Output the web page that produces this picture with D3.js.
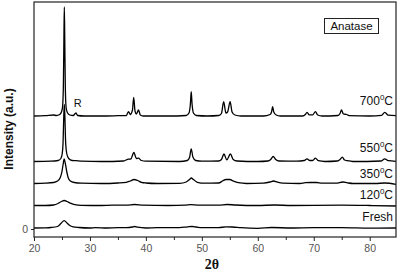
<!DOCTYPE html>
<html>
<head>
<meta charset="utf-8">
<script src="https://cdnjs.cloudflare.com/ajax/libs/d3/7.8.5/d3.min.js"></script>
<style>
  html, body { margin: 0; padding: 0; background: #fff; }
  svg { display: block; }
</style>
</head>
<body>
<svg id="chart" width="400" height="275"></svg>
<script>
// ---------------- DATA ----------------
const seriesNames = ["Fresh", "120", "350", "550", "700"];
// vertical offsets of each pattern (a.u.)
const offsets = [1, 23.5, 45.5, 67.5, 113];

const fresh = [[20,0],[22,0.2],[23,0.5],[24.2,1.5],[24.8,4.5],[25.4,7.3],[25.9,5],[26.4,2.5],[27,1.2],[28,0.5],[30,0],[31,0.4],[33,0],[35,0.3],[36.5,0.3],[37.6,1],[38,1.5],[38.5,0.8],[40,0],[42,0.3],[46,0.3],[47.5,1.2],[48.3,1.5],[49,1],[50,0.3],[53,0.3],[54.3,1.2],[55.5,1],[57,0.3],[60,-0.3],[62.5,0.5],[66,0],[70,0.3],[75,0.3],[80,-0.2],[84.7,0]];
const t120 = [[20,0],[22,0],[23.5,0.5],[24.3,2],[24.9,4],[25.4,5],[25.9,4],[26.5,2.3],[27.3,0.8],[28.5,0.2],[32,0],[34,0.3],[36.5,0.3],[38,1],[39.5,0.3],[44,0],[47,0.3],[48,0.8],[49.5,0.3],[53,0.3],[54.5,1],[56,0.5],[60,0],[63,0.5],[66,0],[70,0.2],[75,0.3],[80,0],[84.7,-0.5]];
const t350 = [[20,0],[22,0.3],[23.5,1],[24.2,2.5],[24.7,6],[25,12],[25.2,19],[25.4,24.5],[25.6,20],[25.85,12],[26.1,6],[26.5,2.5],[27.2,1],[28.5,0.3],[32,0],[35,0.5],[36.5,1.2],[37.2,2.5],[37.9,4],[38.5,3],[39.2,1.2],[40,0.5],[42,0],[46,0.2],[47.2,1.5],[47.8,4],[48.1,5.5],[48.5,4],[49.2,1.2],[50.5,0.3],[53,0.5],[53.7,2.5],[54.3,4],[55,4],[55.6,2.5],[56.5,0.8],[58,0],[61,0.3],[62.2,1.5],[62.8,2.5],[63.5,1.3],[64.5,0.3],[67.5,0],[68.5,0.8],[69.5,1],[70.5,1],[71.5,0.3],[74,0.3],[75.2,1.5],[76,0.7],[77,0],[81,0],[82.7,0.5],[84.7,-0.8]];
const t550 = [[20,0],[23,0.3],[24.3,1],[24.8,3],[25.05,8],[25.2,20],[25.32,45],[25.42,57],[25.52,45],[25.65,20],[25.85,8],[26.2,3],[26.8,1],[27.5,0.8],[28.5,0.3],[32,0],[36,0.5],[36.9,2.4],[37.3,2.5],[37.85,9],[38.3,3],[38.65,3.4],[39.2,1],[40,0.3],[46,0],[47.4,1],[47.8,4],[48.1,12.7],[48.4,4.5],[48.9,1],[50,0.3],[53,0.5],[53.5,2],[53.95,7.5],[54.45,1.7],[55.1,7.5],[55.6,2],[56.3,0.5],[60,0],[61.8,0.5],[62.3,2],[62.75,5],[63.2,2],[63.8,0.5],[67,0.3],[68.3,1],[68.8,2.7],[69.3,1],[69.8,1],[70.3,3.4],[70.8,0.8],[72,0],[74.2,0.5],[74.7,2],[75.1,4.4],[75.5,1.5],[76,0.8],[77,0],[82,0.5],[82.7,2.7],[83.3,0.8],[84.7,0.2]];
const t700 = [[20,0],[22,0.3],[23.5,1],[24,0.5],[24.6,1.5],[24.9,4],[25.1,9],[25.25,30],[25.35,80],[25.42,109],[25.5,75],[25.6,28],[25.75,8],[26,3],[26.4,1],[27,0.5],[27.5,3],[27.8,0.5],[29,0],[32,0],[35,0.3],[36.5,0.5],[36.9,4.3],[37.2,1.5],[37.6,6],[37.82,18.7],[38.05,5],[38.3,2],[38.68,6],[39,1],[39.5,0],[44,0],[47.2,0.5],[47.7,3],[47.95,12],[48.1,24.3],[48.25,12],[48.5,3],[49,0.5],[51,0],[53,0.5],[53.5,2.5],[53.9,14.3],[54.3,3],[54.6,4],[55.05,14.3],[55.4,4],[55.9,1],[57,0],[61,0],[62.2,1.5],[62.45,4],[62.65,9.3],[62.85,4],[63.3,1],[64,0],[68,0],[68.5,1.5],[68.8,3.7],[69.2,1.2],[69.8,1.2],[70.3,4.3],[70.7,1],[71.5,0],[74.3,0.5],[74.7,2.5],[74.95,6],[75.3,2],[75.9,1.5],[76.3,0.3],[80,0],[82.1,0.7],[82.7,3.7],[83.3,0.8],[84.7,0.3]];
const patterns = [fresh, t120, t350, t550, t700];

const seriesLabels = [["Fresh", "", ""], ["120", "0", "C"], ["350", "0", "C"], ["550", "0", "C"], ["700", "0", "C"]];
const labelIntensity = [12, 34, 55, 81, 128];   // a.u. level of each label
const xTicksMajor = [20, 30, 40, 50, 60, 70, 80];
const xTicksMinor = [25, 35, 45, 55, 65, 75];
const yTicks = [0];
const phaseLabel = "Anatase";
const rutileLabel = "R";
const rutilePos = [27.8, 122];
const xTitle = "2θ";
const yTitle = "Intensity (a.u.)";

// ---------------- LAYOUT ----------------
const svg = d3.select("#chart");
const L = 34, R = 396, T = 2, B = 237;
const x = d3.scaleLinear().domain([20, 84.7]).range([L, R]);
const y = d3.scaleLinear().domain([0, 227]).range([229, T]);
const font = "'Liberation Sans', Arial, sans-serif";

svg.append("defs").append("clipPath").attr("id", "clip")
  .append("rect").attr("x", L).attr("y", T).attr("width", R - L).attr("height", B - T);

const line = d3.line().x(d => x(d[0])).y(d => y(d[1])).curve(d3.curveMonotoneX);

const g = svg.append("g").attr("clip-path", "url(#clip)");
patterns.forEach((p, i) => {
  g.append("path")
    .datum(p.map(d => [d[0], d[1] + offsets[i]]))
    .attr("d", line)
    .attr("fill", "none")
    .attr("stroke", "#000")
    .attr("stroke-width", 1.3)
    .attr("stroke-linejoin", "round");
});

// frame
svg.append("rect").attr("x", L).attr("y", T).attr("width", R - L).attr("height", B - T)
  .attr("fill", "none").attr("stroke", "#222").attr("stroke-width", 1.2);

// x axis
const xAxis = d3.axisBottom(x).tickValues(xTicksMajor).tickSize(4).tickPadding(4);
const xa = svg.append("g").attr("transform", `translate(0,${B})`).call(xAxis);
xa.select(".domain").remove();
xa.selectAll("text").attr("font-family", font).attr("font-size", 10.5).attr("fill", "#555");
xa.selectAll("line").attr("stroke", "#222");
const xMinor = d3.axisBottom(x).tickValues(xTicksMinor).tickSize(3).tickFormat("");
const xm = svg.append("g").attr("transform", `translate(0,${B})`).call(xMinor);
xm.select(".domain").remove();
xm.selectAll("line").attr("stroke", "#222");

// y axis
const yAxis = d3.axisLeft(y).tickValues(yTicks).tickSize(3).tickPadding(3);
const ya = svg.append("g").attr("transform", `translate(${L},0)`).call(yAxis);
ya.select(".domain").remove();
ya.selectAll("text").attr("font-family", font).attr("font-size", 10.5).attr("fill", "#555");
ya.selectAll("line").attr("stroke", "#222");

// series labels
seriesLabels.forEach((lb, i) => {
  const t = svg.append("text")
    .attr("x", 393).attr("y", y(labelIntensity[i]) + 4)
    .attr("text-anchor", "end")
    .attr("font-family", font).attr("font-size", 12).attr("fill", "#111");
  t.append("tspan").text(lb[0]);
  if (lb[1]) {
    t.append("tspan").attr("dy", -5).attr("font-size", 8).text(lb[1]);
    t.append("tspan").attr("dy", 5).text(lb[2]);
  }
});

// rutile label
svg.append("text").attr("x", x(rutilePos[0])).attr("y", y(rutilePos[1]))
  .attr("text-anchor", "middle").attr("font-family", font).attr("font-size", 11).attr("fill", "#111")
  .text(rutileLabel);

// anatase box
const bx = svg.append("g");
bx.append("rect").attr("x", 324.5).attr("y", 18.5).attr("width", 54).attr("height", 15)
  .attr("fill", "#fff").attr("stroke", "#222").attr("stroke-width", 1);
bx.append("text").attr("x", 351.5).attr("y", 30).attr("text-anchor", "middle")
  .attr("font-family", font).attr("font-size", 11.5).attr("fill", "#111").text(phaseLabel);

// axis titles
svg.append("text").attr("x", 212).attr("y", 269).attr("text-anchor", "middle")
  .attr("font-family", "'Liberation Serif', 'Times New Roman', serif").attr("font-weight", "bold")
  .attr("font-size", 14).attr("fill", "#111").text(xTitle);
svg.append("text").attr("transform", "translate(13,129) rotate(-90)").attr("text-anchor", "middle")
  .attr("font-family", font).attr("font-weight", "bold").attr("font-size", 12).attr("fill", "#111")
  .text(yTitle);
</script>
</body>
</html>
